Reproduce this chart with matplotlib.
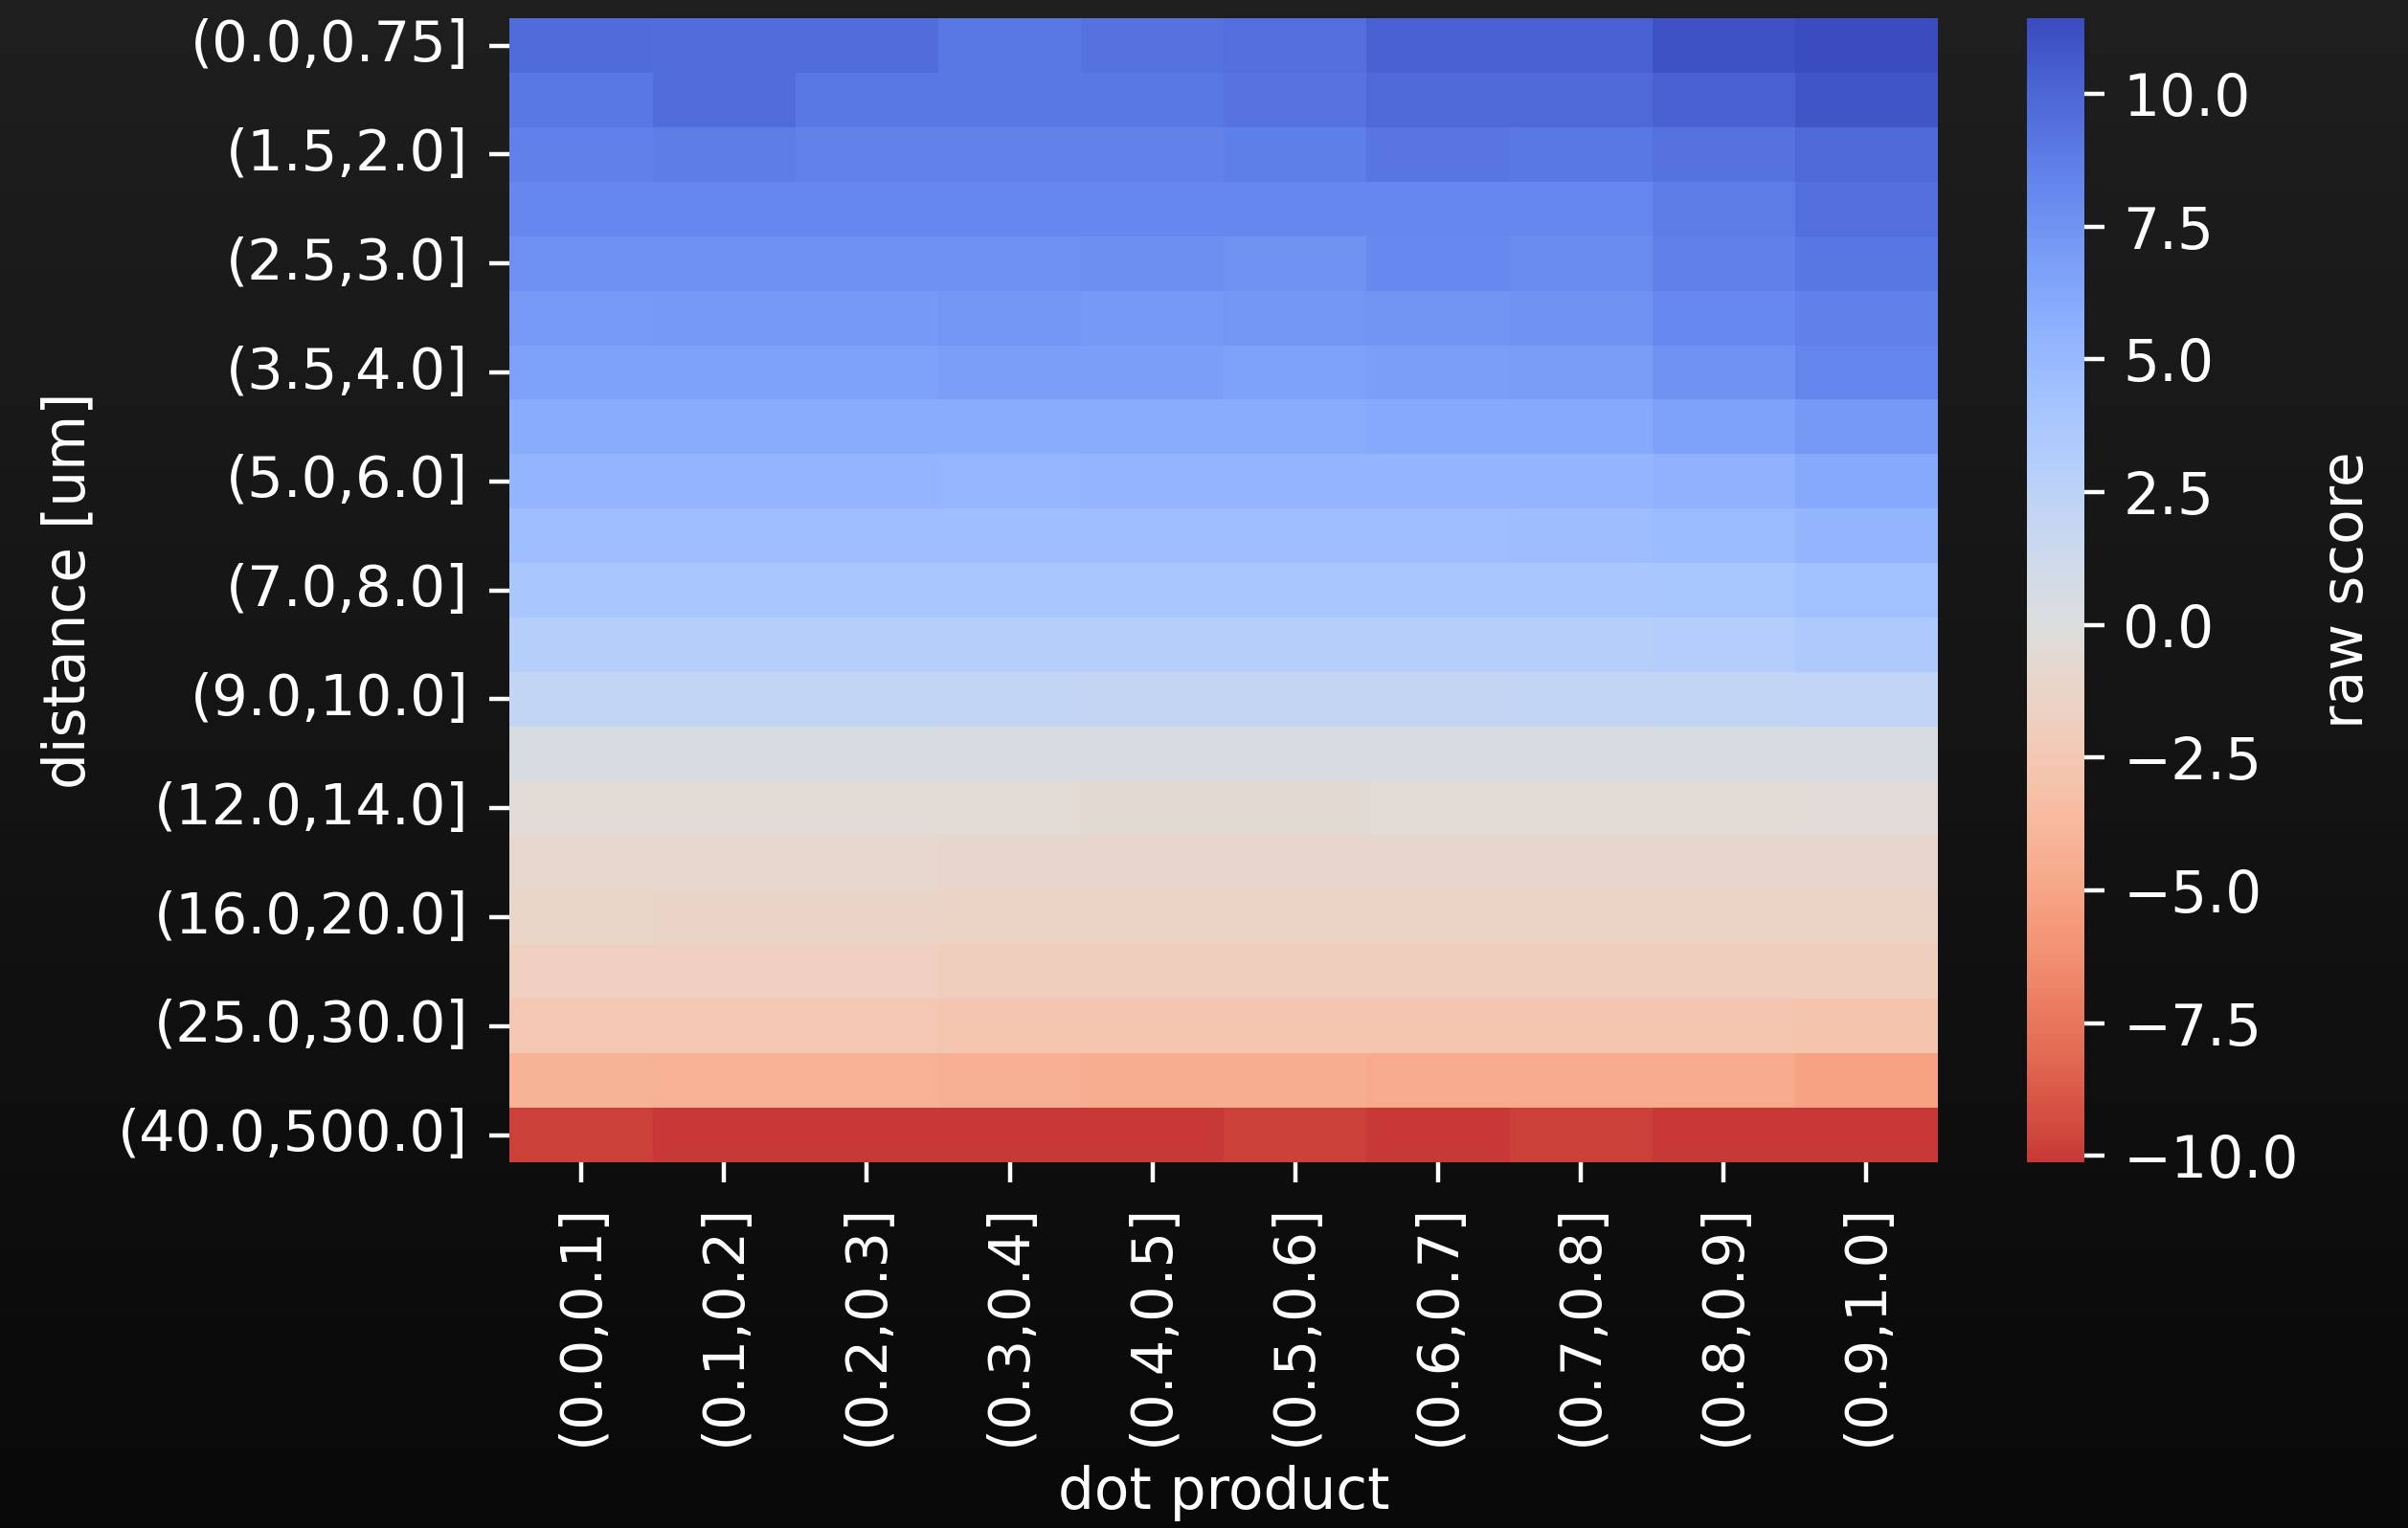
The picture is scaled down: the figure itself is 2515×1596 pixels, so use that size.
import numpy as np
import pandas as pd
import matplotlib.pyplot as plt
import seaborn as sns

dist_bins = ["(0.0,0.75]", "(0.75,1.5]", "(1.5,2.0]", "(2.0,2.5]", "(2.5,3.0]",
             "(3.0,3.5]", "(3.5,4.0]", "(4.0,5.0]", "(5.0,6.0]", "(6.0,7.0]",
             "(7.0,8.0]", "(8.0,9.0]", "(9.0,10.0]", "(10.0,12.0]", "(12.0,14.0]",
             "(14.0,16.0]", "(16.0,20.0]", "(20.0,25.0]", "(25.0,30.0]", "(30.0,40.0]",
             "(40.0,500.0]"]
dot_bins = ["(0.0,0.1]", "(0.1,0.2]", "(0.2,0.3]", "(0.3,0.4]", "(0.4,0.5]",
            "(0.5,0.6]", "(0.6,0.7]", "(0.7,0.8]", "(0.8,0.9]", "(0.9,1.0]"]

# raw scores, one row per distance bin
scores = [
    [9.70, 9.60, 9.60, 9.00, 9.40, 9.50, 10.30, 10.30, 11.00, 11.42],
    [9.00, 9.60, 9.00, 9.00, 9.05, 9.30, 9.80, 9.80, 10.30, 10.90],
    [8.60, 8.75, 8.55, 8.55, 8.55, 8.70, 9.20, 9.05, 9.35, 9.90],
    [8.20, 8.25, 8.30, 8.30, 8.30, 8.30, 8.25, 8.25, 8.80, 9.50],
    [7.70, 7.70, 7.65, 7.65, 7.80, 7.50, 8.10, 7.95, 8.60, 9.10],
    [7.10, 7.15, 7.15, 7.35, 7.15, 7.30, 7.40, 7.50, 8.10, 8.60],
    [6.60, 6.65, 6.65, 6.80, 6.80, 6.70, 6.80, 6.95, 7.60, 8.35],
    [5.95, 5.95, 5.95, 5.95, 5.95, 5.95, 6.10, 6.10, 6.70, 7.20],
    [5.30, 5.30, 5.30, 5.25, 5.30, 5.30, 5.30, 5.35, 5.60, 6.10],
    [4.60, 4.60, 4.60, 4.60, 4.60, 4.55, 4.60, 4.65, 4.85, 5.30],
    [3.90, 3.90, 3.90, 3.85, 3.90, 3.90, 3.90, 3.85, 3.95, 4.40],
    [3.00, 3.00, 3.00, 3.00, 3.00, 2.95, 3.00, 3.00, 3.05, 3.50],
    [2.10, 2.10, 2.10, 2.10, 2.05, 2.05, 2.05, 2.10, 2.15, 2.30],
    [0.50, 0.50, 0.50, 0.45, 0.45, 0.40, 0.40, 0.45, 0.50, 0.50],
    [-0.45, -0.45, -0.45, -0.50, -0.55, -0.55, -0.50, -0.50, -0.45, -0.40],
    [-0.90, -0.90, -0.90, -0.95, -1.00, -1.00, -1.00, -1.00, -0.95, -0.95],
    [-1.20, -1.35, -1.35, -1.45, -1.45, -1.45, -1.45, -1.45, -1.45, -1.40],
    [-1.80, -1.80, -1.85, -1.90, -1.90, -1.95, -1.95, -1.95, -1.95, -1.90],
    [-2.60, -2.60, -2.60, -2.65, -2.70, -2.70, -2.70, -2.70, -2.70, -2.80],
    [-4.10, -4.15, -4.15, -4.25, -4.50, -4.55, -4.70, -4.70, -4.70, -5.20],
    [-9.80, -10.10, -10.10, -10.10, -10.10, -9.80, -10.12, -9.80, -10.12, -10.05],
]
cbar_ticks = [-10, -7.5, -5, -2.5, 0, 2.5, 5, 7.5, 10]

df = pd.DataFrame(scores, index=dist_bins, columns=dot_bins)

plt.rcParams["font.family"] = "DejaVu Sans"
fs_tick = 21.3
fs_label = 21.5
fig = plt.figure(figsize=(12.575, 7.98), dpi=200)

# dark vertical gradient behind everything
bg = fig.add_axes([0, 0, 1, 1], zorder=-10)
grad = np.linspace(0.12, 0.035, 256)[:, None]
bg.imshow(grad, cmap="gray", vmin=0, vmax=1, aspect="auto", extent=[0, 1, 0, 1])
bg.axis("off")

ax = fig.add_axes([0.2117, 0.2393, 0.5931, 0.7487])
cax = fig.add_axes([0.8418, 0.2393, 0.0238, 0.7487])
ax.set_facecolor("none")

sns.heatmap(df, ax=ax, cbar_ax=cax, cmap="coolwarm_r", center=0,
            xticklabels=1, yticklabels=2, cbar_kws={"ticks": cbar_ticks})

ax.set_xlabel("dot product", fontsize=fs_label, color="white", labelpad=7)
ax.set_ylabel("distance [um]", fontsize=fs_label, color="white", labelpad=8)
ax.tick_params(colors="white", labelsize=fs_tick, length=7.5, width=1.6, pad=8)
plt.setp(ax.get_yticklabels(), rotation=0)
plt.setp(ax.get_xticklabels(), rotation=90)

cax.tick_params(colors="white", labelsize=fs_label, length=7.5, width=1.6, pad=7)
cax.set_ylabel("raw score", fontsize=fs_label, color="white", labelpad=7.5)
cax.set_yticklabels([f"{t:.1f}".replace("-", "\u2212") for t in cbar_ticks])

fig.savefig("out.png", dpi=200)
